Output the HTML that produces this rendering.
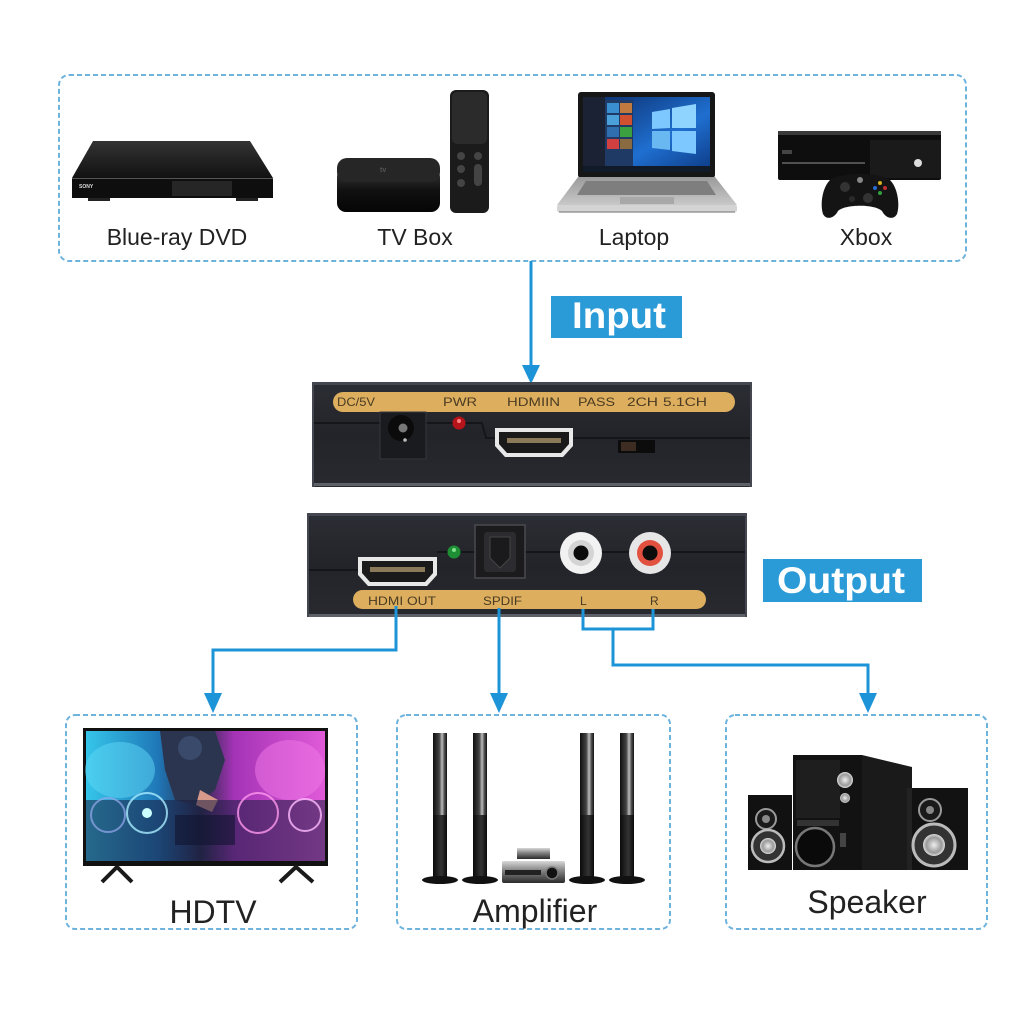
<!DOCTYPE html>
<html><head><meta charset="utf-8">
<style>
html,body{margin:0;padding:0;background:#fff;}
svg{display:block;}
text{font-family:"Liberation Sans",Arial,sans-serif;}
</style></head><body>
<svg width="1024" height="1024" viewBox="0 0 1024 1024" xmlns="http://www.w3.org/2000/svg">
<defs>
  <linearGradient id="dvdTop" x1="0" y1="0" x2="0" y2="1"><stop offset="0" stop-color="#333"/><stop offset="1" stop-color="#121212"/></linearGradient>
  <linearGradient id="atvSide" x1="0" y1="0" x2="0" y2="1"><stop offset="0" stop-color="#3a3a3a"/><stop offset="0.5" stop-color="#111"/><stop offset="1" stop-color="#050505"/></linearGradient>
  <linearGradient id="wall" x1="0" y1="0" x2="1" y2="1"><stop offset="0" stop-color="#0b2a66"/><stop offset="0.6" stop-color="#1f6fd0"/><stop offset="1" stop-color="#0d3a85"/></linearGradient>
  <linearGradient id="lapBase" x1="0" y1="0" x2="0" y2="1"><stop offset="0" stop-color="#9a9a9a"/><stop offset="1" stop-color="#c8c8c8"/></linearGradient>
  <linearGradient id="devBody" x1="0" y1="0" x2="0" y2="1"><stop offset="0" stop-color="#2c2e35"/><stop offset="0.5" stop-color="#222429"/><stop offset="1" stop-color="#282a30"/></linearGradient>
  <linearGradient id="tvScr" x1="0" y1="0" x2="1" y2="0"><stop offset="0" stop-color="#35c6ea"/><stop offset="0.3" stop-color="#1f78b8"/><stop offset="0.48" stop-color="#2a2a48"/><stop offset="0.62" stop-color="#a433b6"/><stop offset="1" stop-color="#e05ad8"/></linearGradient>
  <linearGradient id="tower" x1="0" y1="0" x2="1" y2="0"><stop offset="0" stop-color="#0e0e0e"/><stop offset="0.45" stop-color="#444"/><stop offset="0.65" stop-color="#bdbdbd"/><stop offset="0.8" stop-color="#555"/><stop offset="1" stop-color="#111"/></linearGradient>
  <linearGradient id="towerLow" x1="0" y1="0" x2="1" y2="0"><stop offset="0" stop-color="#0a0a0a"/><stop offset="0.6" stop-color="#333"/><stop offset="1" stop-color="#0a0a0a"/></linearGradient>
  <linearGradient id="amp" x1="0" y1="0" x2="0" y2="1"><stop offset="0" stop-color="#d8d8d8"/><stop offset="0.4" stop-color="#8a8a8a"/><stop offset="1" stop-color="#2a2a2a"/></linearGradient>
  <radialGradient id="silver" cx="0.5" cy="0.5" r="0.5"><stop offset="0" stop-color="#eee"/><stop offset="0.7" stop-color="#999"/><stop offset="1" stop-color="#ddd"/></radialGradient>
</defs>

<!-- ============ TOP INPUT BOX ============ -->
<rect x="59" y="75" width="907" height="186" rx="10" fill="none" stroke="#6db3de" stroke-width="2" stroke-dasharray="5 3"/>

<!-- DVD player -->
<polygon points="93,141 250,141 273,178 72,178" fill="url(#dvdTop)"/>
<rect x="72" y="178" width="201" height="20" fill="#0e0e0e"/>
<line x1="72" y1="178.5" x2="273" y2="178.5" stroke="#555" stroke-width="1"/>
<rect x="172" y="181" width="60" height="15" fill="#262626"/>
<text x="79" y="188" font-size="5" fill="#ddd" font-weight="bold">SONY</text>
<rect x="88" y="198" width="22" height="3" fill="#222"/>
<rect x="236" y="198" width="22" height="3" fill="#222"/>

<!-- Apple TV -->
<rect x="337" y="168" width="103" height="44" rx="9" fill="url(#atvSide)"/>
<rect x="337" y="158" width="103" height="24" rx="10" fill="#262626"/>
<text x="380" y="172" font-size="7" fill="#555" font-weight="bold">tv</text>
<!-- remote -->
<rect x="450" y="90" width="39" height="123" rx="6" fill="#1b1b1b"/>
<rect x="452" y="92" width="35" height="52" rx="5" fill="#2b2b2b"/>
<circle cx="461" cy="156" r="4" fill="#444"/><circle cx="478" cy="156" r="4" fill="#444"/>
<circle cx="461" cy="169" r="4" fill="#444"/><rect x="474" y="164" width="8" height="22" rx="4" fill="#444"/>
<circle cx="461" cy="183" r="4" fill="#444"/>

<!-- Laptop -->
<rect x="578" y="92" width="137" height="86" rx="3" fill="#161616"/>
<rect x="583" y="97" width="127" height="75" fill="url(#wall)"/>
<rect x="583" y="97" width="22" height="75" fill="#1a2233"/>
<rect x="605" y="100" width="28" height="68" fill="#203a66"/>
<rect x="607" y="103" width="12" height="10" fill="#3a8fd0"/><rect x="620" y="103" width="12" height="10" fill="#c07a40"/>
<rect x="607" y="115" width="12" height="10" fill="#4aa0d8"/><rect x="620" y="115" width="12" height="10" fill="#d05030"/>
<rect x="607" y="127" width="12" height="10" fill="#2f6fb0"/><rect x="620" y="127" width="12" height="10" fill="#3aa040"/>
<rect x="607" y="139" width="12" height="10" fill="#d04040"/><rect x="620" y="139" width="12" height="10" fill="#8a6a40"/>
<polygon points="652,112 670,109 670,128 652,129" fill="#7cc8ff"/>
<polygon points="672,108 696,104 696,128 672,128" fill="#8fd3ff"/>
<polygon points="652,131 670,131 670,150 652,148" fill="#6ab8f2"/>
<polygon points="672,131 696,131 696,154 672,151" fill="#7cc8ff"/>
<rect x="583" y="166" width="127" height="6" fill="#111a28"/>
<polygon points="578,177 715,177 737,205 557,205" fill="url(#lapBase)"/>
<polygon points="586,181 707,181 716,195 577,195" fill="#7e7e7e"/>
<rect x="620" y="197" width="54" height="7" fill="#a8a8a8"/>
<rect x="557" y="205" width="180" height="7" rx="2" fill="#d4d4d4"/>
<line x1="559" y1="212" x2="735" y2="212" stroke="#888" stroke-width="1.2"/>

<!-- Xbox -->
<rect x="778" y="131" width="163" height="49" rx="2" fill="#0e0e0e"/>
<rect x="778" y="131" width="163" height="4" fill="#3a3a3a"/>
<rect x="870" y="140" width="71" height="38" fill="#1a1a1a"/>
<line x1="782" y1="163" x2="865" y2="163" stroke="#666" stroke-width="1.5"/>
<rect x="782" y="150" width="10" height="4" fill="#444"/>
<circle cx="918" cy="163" r="4" fill="#ddd"/>
<path d="M830,180 C840,172 880,172 890,180 C898,188 900,205 897,214 C894,220 886,219 882,211 C875,204 845,204 838,211 C834,219 826,220 823,214 C820,205 822,188 830,180 Z" fill="#141414"/>
<circle cx="845" cy="187" r="5" fill="#333"/><circle cx="868" cy="198" r="5" fill="#333"/>
<circle cx="852" cy="199" r="3" fill="#2a2a2a"/>
<circle cx="880" cy="183" r="2" fill="#d0b020"/><circle cx="875" cy="188" r="2" fill="#2a6ad0"/>
<circle cx="885" cy="188" r="2" fill="#c03030"/><circle cx="880" cy="193" r="2" fill="#30a040"/>
<circle cx="860" cy="180" r="3" fill="#888"/>

<!-- top labels -->
<text x="177" y="245" font-size="23" fill="#222" text-anchor="middle">Blue-ray DVD</text>
<text x="415" y="245" font-size="23" fill="#222" text-anchor="middle">TV Box</text>
<text x="634" y="245" font-size="23" fill="#222" text-anchor="middle">Laptop</text>
<text x="866" y="245" font-size="23" fill="#222" text-anchor="middle">Xbox</text>

<!-- Input arrow -->
<line x1="531" y1="261" x2="531" y2="368" stroke="#1e94d8" stroke-width="3"/>
<polygon points="522,365 540,365 531,384" fill="#1e94d8"/>
<rect x="551" y="296" width="131" height="42" fill="#2b9bd8"/>
<text x="572" y="328" font-size="37" font-weight="bold" fill="#fff" textLength="94" lengthAdjust="spacingAndGlyphs">Input</text>

<!-- ============ DEVICE 1 (input side) ============ -->
<rect x="312" y="382" width="440" height="105" rx="3" fill="url(#devBody)"/>
<rect x="312" y="382" width="440" height="3" fill="#44474f"/>
<rect x="312" y="483" width="440" height="3" fill="#5e6168"/>
<rect x="312" y="382" width="2" height="105" fill="#44474f"/>
<rect x="750" y="382" width="2" height="105" fill="#44474f"/>
<polyline points="314,423 380,423" stroke="#15161a" stroke-width="2" fill="none"/>
<polyline points="426,423 482,423 486,438 750,438" stroke="#15161a" stroke-width="2" fill="none"/>
<rect x="333" y="392" width="402" height="20" rx="10" fill="#dcae5e"/>
<g font-size="12" fill="#4a3b22">
<text x="337" y="406" textLength="38" lengthAdjust="spacingAndGlyphs">DC/5V</text>
<text x="443" y="406" textLength="34" lengthAdjust="spacingAndGlyphs">PWR</text>
<text x="507" y="406" textLength="53" lengthAdjust="spacingAndGlyphs">HDMIIN</text>
<text x="578" y="406" textLength="37" lengthAdjust="spacingAndGlyphs">PASS</text>
<text x="627" y="406" textLength="31" lengthAdjust="spacingAndGlyphs">2CH</text>
<text x="663" y="406" textLength="44" lengthAdjust="spacingAndGlyphs">5.1CH</text>
</g>
<!-- DC jack -->
<rect x="380" y="412" width="46" height="47" fill="#1a1b1f" stroke="#36373c" stroke-width="1"/>
<circle cx="401" cy="428" r="13" fill="#0b0b0b"/>
<circle cx="403" cy="428" r="4.5" fill="#777"/>
<circle cx="405" cy="440" r="1.8" fill="#bbb"/>
<!-- red LED -->
<circle cx="459" cy="423" r="6.5" fill="#b5141b"/>
<circle cx="459" cy="421" r="2" fill="#ff8080"/>
<!-- HDMI in -->
<path d="M495,428 L573,428 L573,446 L563,457 L505,457 L495,446 Z" fill="#e8e8e8"/>
<path d="M499,432 L569,432 L569,444 L561,453 L507,453 L499,444 Z" fill="#1a1a1a"/>
<rect x="507" y="438" width="54" height="5" fill="#8a7a5a"/>
<!-- switch -->
<rect x="618" y="440" width="37" height="13" fill="#0c0c0c"/>
<rect x="621" y="442" width="15" height="9" fill="#3d2c22"/>

<!-- ============ DEVICE 2 (output side) ============ -->
<rect x="307" y="513" width="440" height="104" rx="3" fill="url(#devBody)"/>
<rect x="307" y="513" width="440" height="3" fill="#44474f"/>
<rect x="307" y="614" width="440" height="3" fill="#5e6168"/>
<rect x="307" y="513" width="2" height="104" fill="#44474f"/>
<rect x="745" y="513" width="2" height="104" fill="#44474f"/>
<line x1="309" y1="570" x2="358" y2="570" stroke="#15161a" stroke-width="2"/>
<line x1="437" y1="552" x2="745" y2="552" stroke="#15161a" stroke-width="2"/>
<!-- HDMI out -->
<path d="M358,557 L437,557 L437,575 L427,586 L368,586 L358,575 Z" fill="#e8e8e8"/>
<path d="M362,561 L433,561 L433,573 L425,582 L370,582 L362,573 Z" fill="#1a1a1a"/>
<rect x="370" y="567" width="55" height="5" fill="#8a7a5a"/>
<!-- green LED -->
<circle cx="454" cy="552" r="6.5" fill="#1f8f35"/>
<circle cx="454" cy="550" r="2" fill="#7fe08a"/>
<!-- optical -->
<rect x="475" y="525" width="50" height="53" fill="#1b1b1d" stroke="#4a4a4e" stroke-width="1.5"/>
<rect x="484" y="532" width="32" height="40" rx="3" fill="#2c2c30"/>
<path d="M490,537 L510,537 L510,558 L500,568 L490,558 Z" fill="#1a1a1c" stroke="#444" stroke-width="1"/>
<!-- RCA white -->
<circle cx="581" cy="553" r="21" fill="#f2f2f2"/>
<circle cx="581" cy="553" r="13" fill="#d4d4d4"/>
<circle cx="581" cy="553" r="7.5" fill="#0c0c0c"/>
<!-- RCA red -->
<circle cx="650" cy="553" r="21" fill="#e6e6e6"/>
<circle cx="650" cy="553" r="13" fill="#e2513f"/>
<circle cx="650" cy="553" r="7.5" fill="#0c0c0c"/>
<!-- strip -->
<rect x="353" y="590" width="353" height="19" rx="9.5" fill="#dcae5e"/>
<g font-size="12" fill="#4a3b22">
<text x="368" y="605" textLength="68" lengthAdjust="spacingAndGlyphs">HDMI OUT</text>
<text x="483" y="605" textLength="39" lengthAdjust="spacingAndGlyphs">SPDIF</text>
<text x="580" y="605">L</text>
<text x="650" y="605">R</text>
</g>

<!-- Output label -->
<rect x="763" y="559" width="159" height="43" fill="#2b9bd8"/>
<text x="777" y="593" font-size="37" font-weight="bold" fill="#fff" textLength="128" lengthAdjust="spacingAndGlyphs">Output</text>

<!-- ============ CONNECTORS ============ -->
<g stroke="#1e94d8" stroke-width="3" fill="none" stroke-linejoin="miter">
  <polyline points="396,606 396,650 213,650 213,696"/>
  <line x1="499" y1="608" x2="499" y2="696"/>
  <polyline points="583,609 583,629 653,629 653,609"/>
  <polyline points="613,629 613,665 868,665 868,696"/>
</g>
<g fill="#1e94d8">
  <polygon points="204,693 222,693 213,713"/>
  <polygon points="490,693 508,693 499,713"/>
  <polygon points="859,693 877,693 868,713"/>
</g>

<!-- ============ BOTTOM BOXES ============ -->
<rect x="66" y="715" width="291" height="214" rx="9" fill="none" stroke="#6db3de" stroke-width="2" stroke-dasharray="5 3"/>
<rect x="397" y="715" width="273" height="214" rx="9" fill="none" stroke="#6db3de" stroke-width="2" stroke-dasharray="5 3"/>
<rect x="726" y="715" width="261" height="214" rx="9" fill="none" stroke="#6db3de" stroke-width="2" stroke-dasharray="5 3"/>

<!-- HDTV -->
<rect x="83" y="728" width="245" height="138" fill="#111"/>
<rect x="86" y="731" width="239" height="130" fill="url(#tvScr)"/>
<ellipse cx="120" cy="770" rx="35" ry="28" fill="#5fd8f5" opacity="0.5"/>
<ellipse cx="290" cy="770" rx="35" ry="30" fill="#f27ae8" opacity="0.5"/>
<path d="M160,731 L215,731 L225,760 L215,790 L195,805 L175,800 L165,770 Z" fill="#2b3550"/>
<circle cx="190" cy="748" r="12" fill="#3a4a6a"/>
<path d="M200,790 L218,800 L212,812 L196,805 Z" fill="#d79a8a"/>
<rect x="86" y="800" width="239" height="61" fill="#1a1e40" opacity="0.55"/>
<circle cx="108" cy="815" r="17" fill="none" stroke="#9ae" stroke-width="2" opacity="0.7"/>
<circle cx="147" cy="813" r="20" fill="none" stroke="#aef" stroke-width="2" opacity="0.8"/>
<circle cx="147" cy="813" r="5" fill="#cff"/>
<circle cx="258" cy="813" r="20" fill="none" stroke="#f9e" stroke-width="2" opacity="0.8"/>
<circle cx="305" cy="815" r="16" fill="none" stroke="#fbf" stroke-width="2" opacity="0.8"/>
<rect x="175" y="815" width="60" height="30" fill="#101430" opacity="0.6"/>
<polyline points="102,882 117,867 132,882" fill="none" stroke="#1a1a1a" stroke-width="4" stroke-linejoin="round"/>
<polyline points="280,882 296,867 313,882" fill="none" stroke="#1a1a1a" stroke-width="4" stroke-linejoin="round"/>
<text x="213" y="923" font-size="32" fill="#222" text-anchor="middle">HDTV</text>

<!-- Amplifier -->
<g>
  <rect x="433" y="733" width="14" height="82" fill="url(#tower)"/>
  <rect x="433" y="815" width="14" height="63" fill="url(#towerLow)"/>
  <ellipse cx="440" cy="880" rx="18" ry="4" fill="#111"/>
  <rect x="473" y="733" width="14" height="82" fill="url(#tower)"/>
  <rect x="473" y="815" width="14" height="63" fill="url(#towerLow)"/>
  <ellipse cx="480" cy="880" rx="18" ry="4" fill="#111"/>
  <rect x="580" y="733" width="14" height="82" fill="url(#tower)"/>
  <rect x="580" y="815" width="14" height="63" fill="url(#towerLow)"/>
  <ellipse cx="587" cy="880" rx="18" ry="4" fill="#111"/>
  <rect x="620" y="733" width="14" height="82" fill="url(#tower)"/>
  <rect x="620" y="815" width="14" height="63" fill="url(#towerLow)"/>
  <ellipse cx="627" cy="880" rx="18" ry="4" fill="#111"/>
  <rect x="517" y="848" width="33" height="11" fill="url(#amp)"/>
  <rect x="502" y="861" width="63" height="22" rx="2" fill="url(#amp)"/>
  <rect x="505" y="870" width="36" height="5" fill="#222"/>
  <circle cx="552" cy="873" r="6" fill="#111" stroke="#777" stroke-width="1.5"/>
</g>
<text x="535" y="922" font-size="32" fill="#222" text-anchor="middle">Amplifier</text>

<!-- Speaker set -->
<g>
  <polygon points="862,755 912,767 912,870 862,870" fill="#1a1a1a"/>
  <rect x="793" y="755" width="69" height="115" fill="#121212"/>
  <rect x="796" y="760" width="44" height="58" fill="#1e1e1e"/>
  <rect x="797" y="820" width="42" height="6" fill="#333"/>
  <circle cx="815" cy="847" r="19" fill="#0a0a0a" stroke="#777" stroke-width="2.5"/>
  <circle cx="845" cy="780" r="8" fill="url(#silver)"/>
  <circle cx="845" cy="798" r="5" fill="url(#silver)"/>
  <rect x="840" y="833" width="6" height="14" fill="#444"/>
  <rect x="748" y="795" width="44" height="75" fill="#111"/>
  <circle cx="766" cy="819" r="10" fill="#1a1a1a" stroke="#999" stroke-width="2"/>
  <circle cx="766" cy="819" r="4" fill="#888"/>
  <circle cx="768" cy="846" r="16" fill="#333" stroke="#bbb" stroke-width="2.5"/>
  <circle cx="768" cy="846" r="8" fill="url(#silver)"/>
  <rect x="907" y="788" width="61" height="82" fill="#121212"/>
  <rect x="907" y="788" width="5" height="82" fill="#222"/>
  <circle cx="930" cy="810" r="11" fill="#1a1a1a" stroke="#999" stroke-width="2"/>
  <circle cx="930" cy="810" r="4" fill="#888"/>
  <circle cx="934" cy="845" r="21" fill="#333" stroke="#bbb" stroke-width="3"/>
  <circle cx="934" cy="845" r="11" fill="url(#silver)"/>
</g>
<text x="867" y="913" font-size="32" fill="#222" text-anchor="middle">Speaker</text>
</svg>
</body></html>
